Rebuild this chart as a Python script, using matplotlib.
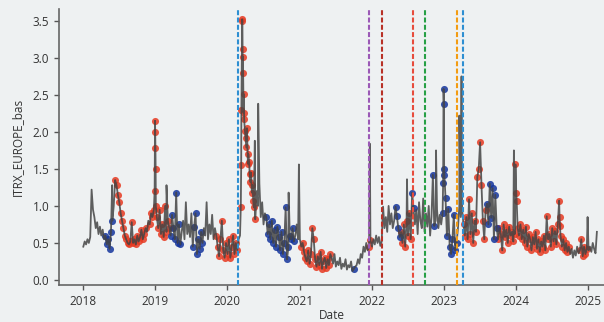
import matplotlib
matplotlib.use('Agg')
import matplotlib.pyplot as plt
import matplotlib.dates as mdates
import pandas as pd

# weekly values, each year starts on Jan 2, one value every 7 days
v2018 = [0.45, 0.52, 0.48, 0.55, 0.50, 0.58, 1.22, 0.95,
         0.85, 0.70, 0.78, 0.62, 0.72, 0.60, 0.68, 0.55,
         0.60, 0.48, 0.55, 0.42, 0.65, 0.80, 1.00,
         1.35, 1.28, 1.15, 1.05, 0.90, 0.80, 0.70, 0.60, 0.55, 0.50,
         0.48, 0.52, 0.78, 0.50, 0.55, 0.48, 0.60, 0.52, 0.58, 0.68, 0.55, 0.62, 0.70,
         0.65, 0.80, 0.75, 0.90, 0.85, 0.95]
v2019 = [1.78,
         0.85, 0.70, 0.95, 0.62, 0.75, 0.58, 1.00, 0.65, 0.80, 0.70,
         0.60, 0.88, 0.70, 0.55, 1.18, 0.50, 0.75, 0.48,
         0.65, 0.80, 0.55, 1.05, 0.62, 0.75, 0.58, 0.90,
         0.45, 0.72, 0.90, 0.35, 0.55, 0.42, 0.65, 0.50,
         0.70, 0.60, 1.05, 0.55, 0.75, 0.62, 0.88, 0.55, 0.70, 0.60,
         0.45, 0.32, 0.55, 0.80, 0.40, 0.30, 0.50]
v2020 = [0.35, 0.55, 0.30, 0.45, 0.60, 0.35, 0.50, 0.40, 0.55,
         0.60, 2.30, 2.79, 2.17, 1.92, 2.05, 1.70, 1.43, 1.45, 1.28, 0.98, 0.82, 1.20,
         1.00, 1.30, 0.85, 1.05, 0.75, 0.90,
         0.85, 0.62, 0.75, 0.55, 0.80, 0.50, 0.68, 0.45, 0.72, 0.58, 0.40,
         0.65, 0.35, 0.50, 0.98, 0.28, 0.45, 0.60, 0.55, 0.70, 0.52,
         0.60, 0.75, 0.55]
v2021 = [0.55, 0.45, 0.50,
         0.38, 0.30, 0.25, 0.40, 0.22, 0.35, 0.70, 0.55, 0.28, 0.18,
         0.32, 0.20, 0.38, 0.15, 0.25, 0.30, 0.16, 0.28, 0.20, 0.35,
         0.30, 0.22, 0.35, 0.18, 0.25, 0.20, 0.30, 0.15, 0.22, 0.18,
         0.28, 0.14, 0.20, 0.17, 0.25, 0.12, 0.15, 0.18,
         0.20, 0.28, 0.22, 0.35, 0.30, 0.45, 0.38, 0.50, 0.40, 0.44, 0.54]
v2022 = [0.45, 0.55, 0.48, 0.60, 0.50, 0.58, 0.46, 0.52,
         0.99, 0.70, 0.85, 0.65, 1.00, 0.75, 0.90, 0.70,
         0.80, 0.99, 0.86, 0.70, 0.58,
         0.65, 0.50, 0.75, 0.45, 0.80, 0.60, 0.90, 0.55,
         1.18, 0.97,
         0.75, 0.95, 0.62, 1.05, 0.80, 0.70, 1.10, 0.65, 0.90, 0.72, 1.00, 0.60, 0.85,
         1.42, 0.73,
         0.80, 0.95, 0.70, 0.88, 0.75,
         0.90]
v2023 = [1.50, 1.11, 0.60, 0.96, 0.45, 0.35, 0.55, 0.88, 0.40, 0.50,
         0.70, 1.00, 0.85, 0.95,
         0.75, 0.60, 0.85, 0.55, 1.09, 0.62, 0.90, 0.50, 0.80, 0.65,
         1.39, 1.50, 1.86, 1.28, 0.80, 0.55, 0.95,
         1.03, 0.75, 1.30, 0.84, 1.24, 0.55, 1.15, 0.70,
         0.55, 0.70, 0.62, 0.40, 0.75, 0.58, 0.68, 0.50, 0.72, 0.60, 0.65, 0.52, 0.62]
v2024 = [1.18,
         0.70, 0.60, 0.75, 0.55, 0.68, 0.50, 0.72, 0.45, 0.62, 0.55, 0.40,
         0.58, 0.48, 0.65, 0.42, 0.55, 0.38, 0.52, 0.45, 0.60, 0.40,
         0.86, 0.55,
         0.62, 0.45, 0.70, 0.52, 0.66, 0.48, 0.75,
         1.07,
         0.60, 0.45, 0.55, 0.40, 0.50, 0.38, 0.45,
         0.35, 0.42, 0.30, 0.40, 0.33, 0.45, 0.36,
         0.40, 0.55, 0.32, 0.45, 0.35, 0.42]
v2025 = [0.40, 0.45, 0.38, 0.50, 0.42, 0.36, 0.65]

# extra daily points around the big moves (these can be marked)
detail_dates = ['2018-12-29', '2018-12-31', '2019-01-01', '2019-01-03', '2019-01-04',
                '2020-03-09', '2020-03-11', '2020-03-16', '2020-03-17', '2020-03-18',
                '2020-03-20', '2020-03-23', '2020-03-24', '2020-03-30', '2020-04-06',
                '2020-04-14', '2020-04-20', '2020-04-27', '2020-05-04', '2020-05-11',
                '2022-12-28', '2022-12-30', '2023-01-01', '2023-01-03',
                '2023-12-29', '2024-01-04', '2024-08-08', '2024-08-10']
detail_vals = [1.20, 2.15, 2.00, 1.50, 1.00,
               0.99, 1.55, 3.52, 3.50, 3.12,
               3.01, 2.26, 2.51, 2.01, 1.79,
               1.57, 1.60, 1.32, 1.18, 1.07,
               1.31, 2.58, 2.38, 1.42,
               1.56, 1.07, 0.85, 0.73]

# single-day spikes on the grey line only
spike_dates = ['2018-05-28', '2019-02-27', '2020-05-19', '2020-06-05', '2020-11-06',
               '2020-12-28', '2021-12-22', '2022-06-28', '2022-11-22', '2023-03-20',
               '2023-03-31', '2023-12-21', '2024-12-28']
spike_vals = [1.28, 1.28, 1.88, 2.38, 1.18,
              1.56, 1.84, 1.36, 1.75, 2.22,
              2.75, 1.75, 0.85]

# highlighted regimes
regime_start = ['2018-06-08', '2018-12-01', '2019-11-01', '2020-03-08', '2021-01-06',
                '2021-12-17', '2022-05-27', '2023-04-08', '2023-09-28', '2024-11-16',
                '2018-04-20', '2019-03-18', '2019-07-05', '2020-07-12', '2021-09-29',
                '2022-04-28', '2022-07-22', '2022-11-04', '2022-12-20', '2023-08-05']
regime_end = ['2018-11-15', '2019-03-15', '2020-02-23', '2020-05-22', '2021-06-06',
              '2021-12-27', '2022-07-20', '2023-08-02', '2024-09-25', '2024-12-31',
              '2018-06-02', '2019-05-10', '2019-08-30', '2020-12-05', '2021-10-04',
              '2022-05-25', '2022-08-02', '2022-11-15', '2023-03-07', '2023-09-27']
regime_color = ['#e63a22'] * 10 + ['#14359c'] * 10

# event lines
event_dates = ['2020-02-24', '2021-12-17', '2022-02-24', '2022-07-28',
               '2022-09-26', '2023-03-10', '2023-04-05']
event_colors = ['#2e8fd2', '#9b59b6', '#b83227', '#e74c3c',
                '#27a046', '#f39c12', '#2e8fd2']

bg = '#eef1f2'
txt = '#333333'
plt.rcParams['font.family'] = ['Open Sans', 'DejaVu Sans']

yearly = {2018: v2018, 2019: v2019, 2020: v2020, 2021: v2021,
          2022: v2022, 2023: v2023, 2024: v2024, 2025: v2025}
parts = []
for year, vals in yearly.items():
    idx = pd.date_range(f'{year}-01-02', periods=len(vals), freq='7D')
    parts.append(pd.Series(vals, index=idx))
parts.append(pd.Series(detail_vals, index=pd.to_datetime(detail_dates)))
marked = pd.concat(parts).sort_index()
spikes = pd.Series(spike_vals, index=pd.to_datetime(spike_dates))
series = pd.concat([marked, spikes]).sort_index()

fig = plt.figure(figsize=(6.04, 3.22), dpi=100, facecolor=bg)
ax = fig.add_axes([59 / 604, 37 / 322, 545 / 604, 276 / 322])
ax.set_facecolor(bg)

for s, e, c in zip(regime_start, regime_end, regime_color):
    sel = marked[s:e]
    ax.scatter(sel.index, sel.values, s=26, color=c, alpha=0.85,
               linewidths=0, zorder=2)

ax.plot(series.index, series.values, color='#444444', lw=1.3, alpha=0.85, zorder=3)

for d, c in zip(event_dates, event_colors):
    ax.axvline(pd.Timestamp(d), color=c, lw=1.5, linestyle=(0, (2.4, 1.1)), zorder=4)

ax.set_xlim(pd.Timestamp('2017-09-01'), pd.Timestamp('2025-03-21'))
ax.set_ylim(-0.068, 3.66)
ax.set_yticks([0.0, 0.5, 1.0, 1.5, 2.0, 2.5, 3.0, 3.5])
ax.xaxis.set_major_locator(mdates.YearLocator())
ax.xaxis.set_major_formatter(mdates.DateFormatter('%Y'))

ax.spines['top'].set_visible(False)
ax.spines['right'].set_visible(False)
for sp in ['left', 'bottom']:
    ax.spines[sp].set_color('#666666')
    ax.spines[sp].set_linewidth(1.2)
ax.tick_params(colors='#555555', labelcolor=txt, labelsize=8.5, length=3.5, width=1)

ax.set_xlabel('Date', fontsize=8.5, color=txt, labelpad=1)
ax.set_ylabel('ITRX_EUROPE_bas', fontsize=8.5, color=txt, labelpad=6)

fig.savefig('out.png', dpi=100, facecolor=bg)
